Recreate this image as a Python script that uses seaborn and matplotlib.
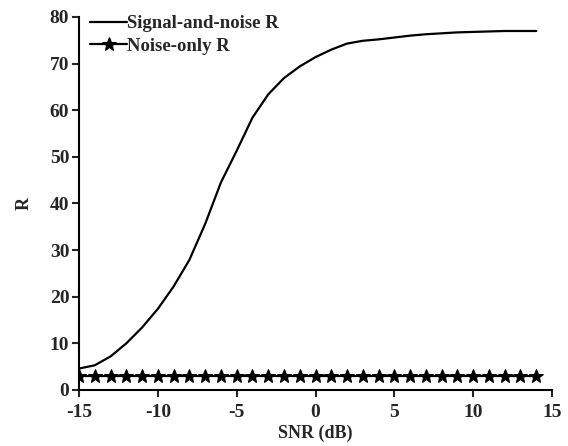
import matplotlib
matplotlib.use("Agg")
import matplotlib.pyplot as plt
import seaborn as sns
import pandas as pd

snr_db = list(range(-15, 15))
signal_noise_r = [4.6, 5.3, 7.2, 10.0, 13.4, 17.4, 22.2, 27.9, 35.6, 44.5,
                  51.3, 58.4, 63.4, 66.9, 69.4, 71.4, 73.0, 74.3, 74.9, 75.2,
                  75.6, 76.0, 76.3, 76.5, 76.7, 76.8, 76.9, 77.0, 77.0, 77.0]
noise_only_r = [3.0] * 30
series_names = ["Signal-and-noise R", "Noise-only R"]
x_ticks = [-15, -10, -5, 0, 5, 10, 15]
y_ticks = [0, 10, 20, 30, 40, 50, 60, 70, 80]

sns.set_style("ticks")
plt.rcParams['font.family'] = ['Liberation Serif', 'DejaVu Serif']
plt.rcParams['font.weight'] = 'bold'
plt.rcParams['axes.unicode_minus'] = False

df_sig = pd.DataFrame({"snr": snr_db, "R": signal_noise_r})
df_noise = pd.DataFrame({"snr": snr_db, "R": noise_only_r})

fig = plt.figure(figsize=(5.68, 4.46), dpi=100)
ax = fig.add_axes([79/568, 56/446, (552-79)/568, (390-17)/446])

sns.lineplot(data=df_sig, x="snr", y="R", ax=ax, color="black", linewidth=1.6,
             label=series_names[0])
sns.lineplot(data=df_noise, x="snr", y="R", ax=ax, color="black", linewidth=1.6,
             marker="*", markersize=10, markeredgecolor="black",
             label=series_names[1])

ax.set_xlim(-15, 15)
ax.set_ylim(0, 80)
ax.set_xticks(x_ticks)
ax.set_yticks(y_ticks)
ax.tick_params(axis="both", direction="out", length=5, width=1.5,
               labelsize=14, pad=2)
ax.tick_params(axis="x", pad=5)
for lab in ax.get_xticklabels() + ax.get_yticklabels():
    lab.set_fontweight("bold")
for s in ["left", "bottom"]:
    ax.spines[s].set_linewidth(1.5)
    ax.spines[s].set_color("black")
sns.despine(ax=ax)
ax.set_xlabel("SNR (dB)", fontsize=13, fontweight="bold", labelpad=3)
ax.set_ylabel("R", fontsize=13, fontweight="bold", labelpad=12)

leg = ax.legend(loc="upper left", bbox_to_anchor=(0.015, 1.015), frameon=False,
                fontsize=13.5, handlelength=2.0, handletextpad=0.0,
                borderaxespad=0.0, labelspacing=0.3, borderpad=0.2)
for t in leg.get_texts():
    t.set_fontweight("bold")

fig.savefig("out.png", dpi=100)
